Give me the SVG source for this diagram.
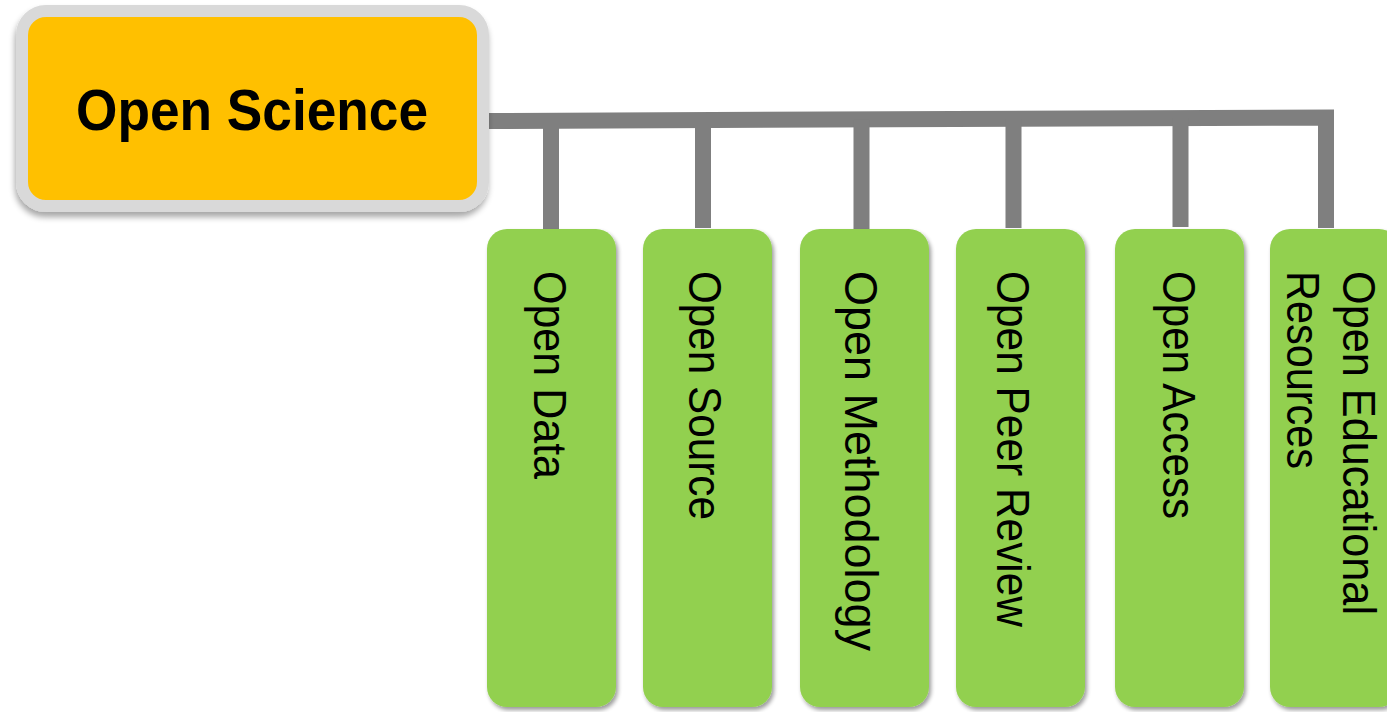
<svg xmlns="http://www.w3.org/2000/svg" width="1387" height="712" viewBox="0 0 1387 712">
  <defs>
    <filter id="shadowMain" x="-10%" y="-10%" width="120%" height="130%">
      <feGaussianBlur in="SourceAlpha" stdDeviation="3"/>
      <feOffset dx="-1" dy="5" result="b"/>
      <feComponentTransfer><feFuncA type="linear" slope="0.35"/></feComponentTransfer>
      <feMerge><feMergeNode/><feMergeNode in="SourceGraphic"/></feMerge>
    </filter>
    <filter id="shadowLeaf" x="-10%" y="-5%" width="125%" height="110%">
      <feGaussianBlur in="SourceAlpha" stdDeviation="2"/>
      <feOffset dx="2" dy="3" result="b"/>
      <feComponentTransfer><feFuncA type="linear" slope="0.4"/></feComponentTransfer>
      <feMerge><feMergeNode/><feMergeNode in="SourceGraphic"/></feMerge>
    </filter>
  </defs>
  <style>
    .conn { fill: none; stroke: #7f7f7f; stroke-width: 16; stroke-linejoin: miter; stroke-linecap: butt; }
    .leaf { fill: #92d050; filter: url(#shadowLeaf); }
    .leaf-label { font-family: "Liberation Sans", Arial, sans-serif; font-size: 46px; fill: #000; }
    .root-box { fill: #ffc000; stroke: #d9d9d9; stroke-width: 12; filter: url(#shadowMain); }
    .root-label { font-family: "Liberation Sans", Arial, sans-serif; font-size: 58px; font-weight: bold; fill: #000; }
  </style>
  <rect width="1387" height="712" fill="#ffffff"/>

  <!-- connectors: trunk bar and drops -->
  <g id="connectors">
    <path class="conn" d="M488,121 L1326,117.5 L1326,228"/>
    <line class="conn" x1="551" y1="121" x2="551" y2="229"/>
    <line class="conn" x1="703" y1="120" x2="703" y2="228"/>
    <line class="conn" x1="861.5" y1="119.5" x2="861.5" y2="229"/>
    <line class="conn" x1="1013.5" y1="119" x2="1013.5" y2="228"/>
    <line class="conn" x1="1180.5" y1="118" x2="1180.5" y2="227"/>
  </g>

  <!-- root node -->
  <g id="node-open-science">
    <rect class="root-box" x="22" y="11" width="461" height="195" rx="24" ry="24"/>
    <text class="root-label" x="252" y="130" text-anchor="middle" textLength="352" lengthAdjust="spacingAndGlyphs">Open Science</text>
  </g>

  <!-- leaf nodes -->
  <g id="node-open-data">
    <rect class="leaf" x="487" y="229" width="129" height="478" rx="20" ry="20"/>
    <text class="leaf-label" transform="translate(534,271) rotate(90)" textLength="208" lengthAdjust="spacingAndGlyphs">Open Data</text>
  </g>
  <g id="node-open-source">
    <rect class="leaf" x="643" y="229" width="129" height="478" rx="20" ry="20"/>
    <text class="leaf-label" transform="translate(689,271) rotate(90)" textLength="249" lengthAdjust="spacingAndGlyphs">Open Source</text>
  </g>
  <g id="node-open-methodology">
    <rect class="leaf" x="800" y="229" width="129" height="478" rx="20" ry="20"/>
    <text class="leaf-label" transform="translate(845,271) rotate(90)" textLength="380" lengthAdjust="spacingAndGlyphs">Open Methodology</text>
  </g>
  <g id="node-open-peer-review">
    <rect class="leaf" x="956" y="229" width="129" height="478" rx="20" ry="20"/>
    <text class="leaf-label" transform="translate(997,271) rotate(90)" textLength="356" lengthAdjust="spacingAndGlyphs">Open Peer Review</text>
  </g>
  <g id="node-open-access">
    <rect class="leaf" x="1115" y="229" width="129" height="478" rx="20" ry="20"/>
    <text class="leaf-label" transform="translate(1163,271) rotate(90)" textLength="248" lengthAdjust="spacingAndGlyphs">Open Access</text>
  </g>
  <g id="node-open-educational-resources">
    <rect class="leaf" x="1270" y="229" width="129" height="478" rx="20" ry="20"/>
    <text class="leaf-label" transform="translate(1343,271) rotate(90)" textLength="344" lengthAdjust="spacingAndGlyphs">Open Educational</text>
    <text class="leaf-label" transform="translate(1287,271) rotate(90)" textLength="198" lengthAdjust="spacingAndGlyphs">Resources</text>
  </g>
</svg>
